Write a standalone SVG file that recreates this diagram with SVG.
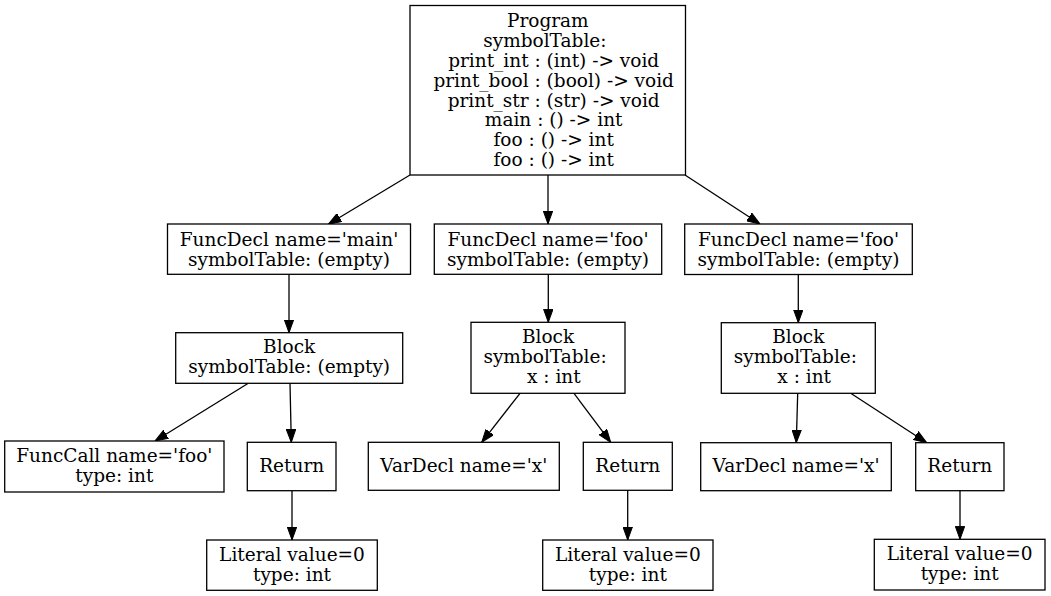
<svg xmlns="http://www.w3.org/2000/svg" width="1051" height="596" viewBox="0 0 1051 596">
<style>
.n rect{fill:#fff;stroke:#000;stroke-width:1.3}
.n text{font-family:"DejaVu Serif","Liberation Serif",serif;font-size:18.5px;fill:#000;text-anchor:middle;white-space:pre}
.e path{fill:none;stroke:#000;stroke-width:1.3}
</style>
<defs>
<marker id="ah" markerUnits="userSpaceOnUse" viewBox="0 0 13 10" refX="13" refY="5" markerWidth="13" markerHeight="10" orient="auto">
<path d="M0,0.3 L13,5 L0,9.7 z" fill="#000" stroke="#000" stroke-width="1"/>
</marker>
</defs>
<rect width="1051" height="596" fill="#fff"/>
<g class="e" id="edges">
<path d="M410,175 L328.3,224.3" marker-end="url(#ah)"/>
<path d="M548,175 L548,224" marker-end="url(#ah)"/>
<path d="M685,175 L760,224" marker-end="url(#ah)"/>
<path d="M289,274.5 L289,332.7" marker-end="url(#ah)"/>
<path d="M548.3,274.3 L548.3,322.3" marker-end="url(#ah)"/>
<path d="M798.3,274.7 L798.3,322.7" marker-end="url(#ah)"/>
<path d="M248.3,383.3 L155,441" marker-end="url(#ah)"/>
<path d="M290,383.3 L291.3,442.3" marker-end="url(#ah)"/>
<path d="M520,393.3 L481.7,442.3" marker-end="url(#ah)"/>
<path d="M574,393.3 L610.7,442.3" marker-end="url(#ah)"/>
<path d="M797.7,393.3 L796.3,442.7" marker-end="url(#ah)"/>
<path d="M850.7,393.3 L926.7,442.7" marker-end="url(#ah)"/>
<path d="M292,490.7 L292,540" marker-end="url(#ah)"/>
<path d="M627.7,490.3 L627.7,540" marker-end="url(#ah)"/>
<path d="M960,490.7 L960,539.3" marker-end="url(#ah)"/>
</g>
<g class="n" id="program">
<rect x="410" y="5.5" width="275.5" height="169.5"/>
<text x="547.8" y="26.5">Program</text>
<text x="547.8" y="46.5">symbolTable: </text>
<text x="547.8" y="66.5">  print_int : (int) -&gt; void</text>
<text x="547.8" y="86.5">  print_bool : (bool) -&gt; void</text>
<text x="547.8" y="106.5">  print_str : (str) -&gt; void</text>
<text x="547.8" y="126">  main : () -&gt; int</text>
<text x="547.8" y="146">  foo : () -&gt; int</text>
<text x="547.8" y="165.5">  foo : () -&gt; int</text>
</g>
<g class="n" id="funcdecl_main">
<rect x="167.5" y="224" width="243" height="50.3"/>
<text x="289" y="245.5">FuncDecl name='main'</text>
<text x="289" y="265.5">symbolTable: (empty)</text>
</g>
<g class="n" id="funcdecl_foo1">
<rect x="434.3" y="224" width="227.4" height="50.3"/>
<text x="548" y="245.5">FuncDecl name='foo'</text>
<text x="548" y="265.5">symbolTable: (empty)</text>
</g>
<g class="n" id="funcdecl_foo2">
<rect x="684.7" y="224" width="227.6" height="50.5"/>
<text x="798.5" y="245.5">FuncDecl name='foo'</text>
<text x="798.5" y="265.5">symbolTable: (empty)</text>
</g>
<g class="n" id="block_main">
<rect x="175.7" y="332.7" width="227" height="50.6"/>
<text x="289.2" y="353">Block</text>
<text x="289.2" y="373">symbolTable: (empty)</text>
</g>
<g class="n" id="block_foo1">
<rect x="471" y="322.3" width="154" height="71"/>
<text x="548" y="343">Block</text>
<text x="548" y="363">symbolTable: </text>
<text x="548" y="383">  x : int</text>
</g>
<g class="n" id="block_foo2">
<rect x="721.3" y="322.7" width="154" height="70.6"/>
<text x="798.3" y="343.3">Block</text>
<text x="798.3" y="363.3">symbolTable: </text>
<text x="798.3" y="383.3">  x : int</text>
</g>
<g class="n" id="funccall_main">
<rect x="4.7" y="441" width="219.3" height="51"/>
<text x="114.3" y="461.5">FuncCall name='foo'</text>
<text x="114.3" y="481.5">type: int</text>
</g>
<g class="n" id="return_main">
<rect x="247.3" y="442.3" width="88.7" height="48.4"/>
<text x="291.7" y="472">Return</text>
</g>
<g class="n" id="literal_main">
<rect x="206.7" y="540" width="170.6" height="50.3"/>
<text x="292" y="560.5">Literal value=0</text>
<text x="292" y="580.5">type: int</text>
</g>
<g class="n" id="vardecl_foo1">
<rect x="368.3" y="442.3" width="191" height="48"/>
<text x="463.8" y="472">VarDecl name='x'</text>
</g>
<g class="n" id="return_foo1">
<rect x="583.3" y="442.3" width="89" height="48"/>
<text x="627.8" y="472">Return</text>
</g>
<g class="n" id="literal_foo1">
<rect x="542.7" y="540" width="170.3" height="50.3"/>
<text x="627.8" y="560.5">Literal value=0</text>
<text x="627.8" y="580.5">type: int</text>
</g>
<g class="n" id="vardecl_foo2">
<rect x="700.7" y="442.7" width="190.6" height="48"/>
<text x="796" y="472.3">VarDecl name='x'</text>
</g>
<g class="n" id="return_foo2">
<rect x="915.7" y="442.7" width="88.3" height="48"/>
<text x="959.8" y="472.3">Return</text>
</g>
<g class="n" id="literal_foo2">
<rect x="874.3" y="539.3" width="170.7" height="50.7"/>
<text x="959.7" y="560">Literal value=0</text>
<text x="959.7" y="580">type: int</text>
</g>
</svg>
